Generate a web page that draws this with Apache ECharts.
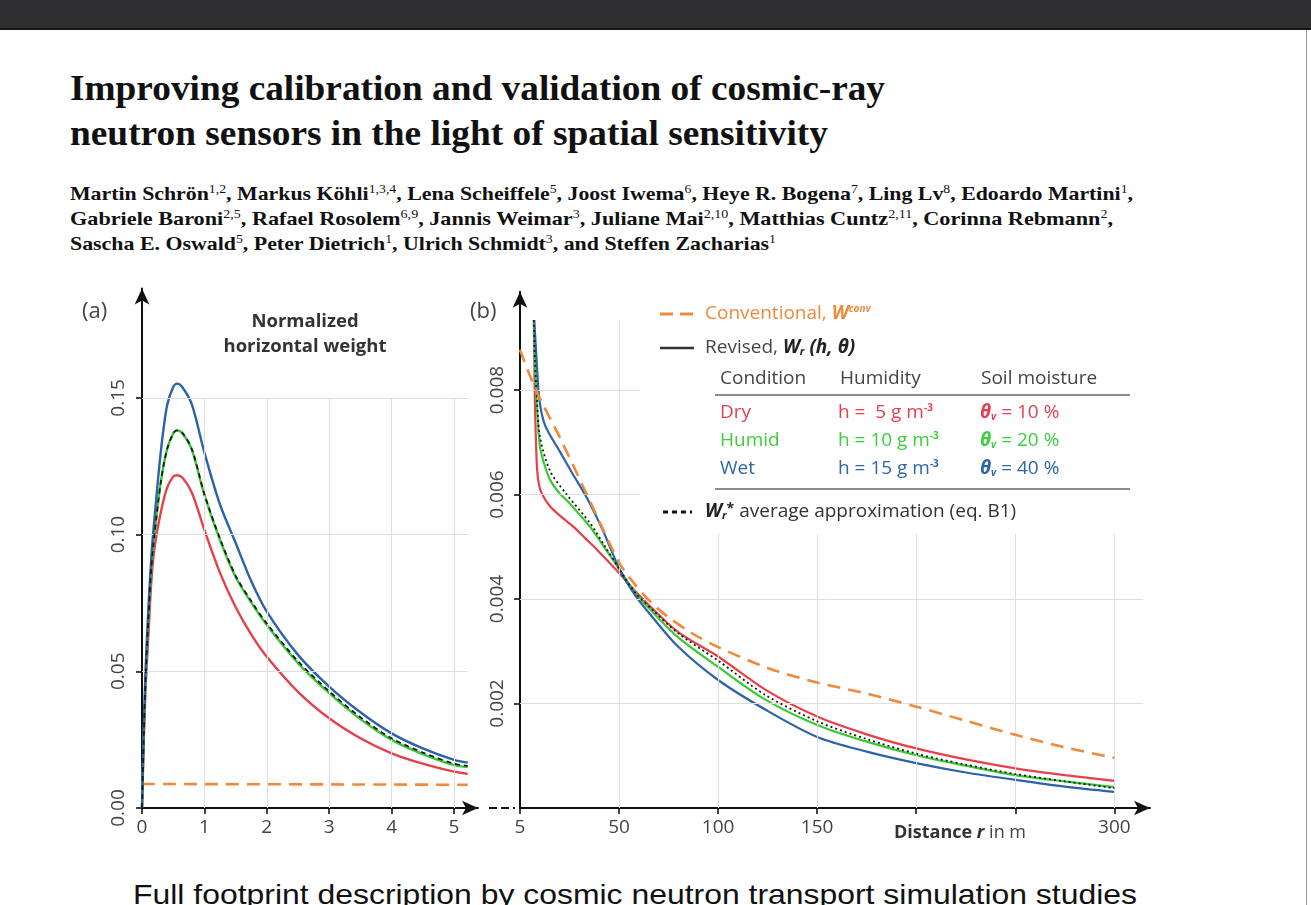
<!DOCTYPE html>
<html>
<head>
<meta charset="utf-8">
<script src="https://cdn.jsdelivr.net/npm/echarts@6.0.0/dist/echarts.min.js"></script>
<style>
  html, body { margin:0; padding:0; width:1311px; height:905px; overflow:hidden; background:#fff; }
  #topbar { position:absolute; left:0; top:0; width:1311px; height:28px; background:#2e2e30; border-bottom:2px solid #151515; }
  #rline { position:absolute; left:1306px; top:30px; width:1px; height:875px; background:#9a9a9a; }
  .fit { position:absolute; white-space:nowrap; transform-origin:0 0; display:inline-block; }
  .title { font-family:"Liberation Serif", serif; font-weight:bold; font-size:35px; line-height:35px; color:#111; }
  .auth { font-family:"Liberation Serif", serif; font-weight:bold; font-size:19px; line-height:19px; color:#111; }
  .auth sup { font-weight:normal; font-size:12px; line-height:0; vertical-align:0.55em; }
  .foot { font-family:"Liberation Sans", sans-serif; font-size:28px; line-height:28px; color:#111; }
  #chart { position:absolute; left:0; top:0; width:1311px; height:905px; }
</style>
</head>
<body>
<div id="topbar"></div>
<div id="rline"></div>
<div class="fit title" data-w="815" style="left:70px; top:71px;">Improving calibration and validation of cosmic-ray</div>
<div class="fit title" data-w="758" style="left:70px; top:116px;">neutron sensors in the light of spatial sensitivity</div>
<div class="fit auth" data-w="1063" style="left:70px; top:184px;">Martin Schrön<sup>1,2</sup>, Markus Köhli<sup>1,3,4</sup>, Lena Scheiffele<sup>5</sup>, Joost Iwema<sup>6</sup>, Heye R. Bogena<sup>7</sup>, Ling Lv<sup>8</sup>, Edoardo Martini<sup>1</sup>,</div>
<div class="fit auth" data-w="1043" style="left:70px; top:209px;">Gabriele Baroni<sup>2,5</sup>, Rafael Rosolem<sup>6,9</sup>, Jannis Weimar<sup>3</sup>, Juliane Mai<sup>2,10</sup>, Matthias Cuntz<sup>2,11</sup>, Corinna Rebmann<sup>2</sup>,</div>
<div class="fit auth" data-w="706" style="left:70px; top:234px;">Sascha E. Oswald<sup>5</sup>, Peter Dietrich<sup>1</sup>, Ulrich Schmidt<sup>3</sup>, and Steffen Zacharias<sup>1</sup></div>
<div class="fit foot" data-w="1004" style="left:133px; top:881px;">Full footprint description by cosmic neutron transport simulation studies</div>
<div id="chart"></div>
<script>
// ---------------- DATA ----------------
// Panel (a): normalized horizontal weight vs distance (x in the panel's units)
const A_X     = [0, 0.03, 0.06, 0.10, 0.15, 0.20, 0.30, 0.40, 0.50, 0.56, 0.65, 0.80, 1.00, 1.25, 1.50, 1.75, 2.00, 2.50, 3.00, 3.50, 4.00, 4.50, 5.00, 5.22];
const A_WET   = [0, 0.030, 0.052, 0.072, 0.092, 0.106, 0.130, 0.147, 0.1540, 0.1552, 0.1538, 0.1475, 0.1300, 0.1110, 0.0970, 0.0830, 0.0718, 0.0560, 0.0444, 0.0350, 0.0273, 0.0218, 0.0176, 0.0166];
const A_HUMID = [0, 0.028, 0.049, 0.068, 0.088, 0.100, 0.119, 0.131, 0.1370, 0.1381, 0.1370, 0.1310, 0.1145, 0.0980, 0.0845, 0.0752, 0.0669, 0.0530, 0.0420, 0.0325, 0.0249, 0.0197, 0.0157, 0.0150];
const A_AVG   = [0, 0.028, 0.049, 0.068, 0.088, 0.100, 0.119, 0.131, 0.1370, 0.1381, 0.1371, 0.1312, 0.1148, 0.0985, 0.0850, 0.0757, 0.0675, 0.0537, 0.0427, 0.0332, 0.0255, 0.0203, 0.0162, 0.0154];
const A_DRY   = [0, 0.026, 0.045, 0.062, 0.083, 0.095, 0.108, 0.117, 0.1212, 0.1217, 0.1208, 0.1153, 0.1017, 0.0860, 0.0735, 0.0635, 0.0553, 0.0425, 0.0328, 0.0255, 0.0200, 0.0162, 0.0133, 0.0125];
const A_CONV_X = [0, 5.22];
const A_CONV   = [0.0088, 0.0085];

// Panel (b): horizontal weight vs distance r in m  ([r, W])
const B_CONV  = [[0,0.00877],[8,0.0080],[20,0.0071],[35,0.0059],[50,0.0047],[58,0.00428],[66,0.00394],[75,0.00365],[87,0.00334],[100,0.00308],[125,0.00268],[150,0.0024],[175,0.00219],[200,0.00194],[225,0.00167],[250,0.0014],[275,0.00116],[300,0.00096]];
const B_DRY   = [[7,0.00934],[7.2,0.0086],[7.5,0.0078],[8,0.0071],[8.6,0.0065],[9.5,0.0062],[11,0.00602],[15,0.00578],[20,0.0056],[27,0.00538],[33,0.00516],[39,0.00494],[45,0.0047],[50,0.0045],[58,0.00416],[66.7,0.00382],[80,0.00336],[100,0.0029],[124,0.00226],[150,0.00175],[175,0.00141],[200,0.00114],[225,0.00093],[250,0.00076],[275,0.00063],[300,0.00052]];
const B_HUMID = [[7,0.00934],[7.5,0.0086],[8.4,0.0078],[10.1,0.00691],[12.5,0.00655],[15.2,0.00628],[20,0.00602],[23.6,0.00589],[30,0.00562],[35.4,0.00538],[43,0.00497],[50.5,0.00455],[58,0.00413],[66.7,0.00376],[80,0.00326],[100,0.0027],[124,0.00207],[150,0.00159],[175,0.00127],[200,0.00101],[225,0.00081],[250,0.00063],[275,0.00051],[300,0.0004]];
const B_WET   = [[7.2,0.00934],[8.5,0.0085],[9.8,0.00781],[12.6,0.00733],[20,0.00683],[27,0.00637],[34,0.00592],[42,0.0053],[50.5,0.00455],[58,0.00408],[66.7,0.00366],[80,0.00308],[100,0.00245],[124,0.00188],[150,0.00136],[175,0.00108],[200,0.00086],[225,0.00068],[250,0.00054],[275,0.00041],[300,0.00031]];
const B_AVG   = [[7,0.00934],[7.5,0.0086],[8.6,0.0078],[10.1,0.0071],[15.2,0.00645],[23.6,0.006],[35.4,0.00545],[43,0.005],[50.5,0.00455],[58,0.00413],[66.7,0.0038],[80,0.00334],[100,0.00282],[124,0.00216],[150,0.00166],[175,0.00132],[200,0.00104],[225,0.00083],[250,0.00065],[275,0.00051],[300,0.00038]];

// Ticks / gridlines
const A_XTICKS = [0, 1, 2, 3, 4, 5];
const A_YTICKS = [0, 0.05, 0.10, 0.15];
const A_GRID_X = [1, 2, 3, 4, 5];
const A_GRID_Y = [0.05, 0.10, 0.15];
const B_XTICKS = [0, 50, 100, 150, 200, 250, 300];
const B_XLABELS = [0, 50, 100, 150, 300];
const B_ORIGIN_LABEL = '5';
const B_YTICKS = [0.002, 0.004, 0.006, 0.008];
const B_GRID_X = [50, 100, 150, 200, 250, 300];
const B_GRID_Y = [0.002, 0.004, 0.006, 0.008];

// ---------------- LAYOUT FIT FOR HTML TEXT ----------------
document.querySelectorAll('.fit').forEach(el => {
  const w = el.getBoundingClientRect().width;
  el.style.transform = 'scaleX(' + (+el.dataset.w / w) + ')';
});

// ---------------- CHART ----------------
const C = { red:'#e6404b', green:'#38c935', blue:'#2c63a8', orange:'#ef8a3c', black:'#1a1a1a', grid:'#dedede', text:'#444' };
const FONT = '"Open Sans", "Noto Sans", sans-serif';

function axisCommon(extra) {
  return Object.assign({
    type:'value',
    axisLine:{ show:true, onZero:false, symbol:['none','arrow'], symbolSize:[11,16], lineStyle:{ color:'#111', width:2 } },
    axisTick:{ show:true, inside:false, length:6, lineStyle:{ color:'#111', width:1.6 } },
    splitLine:{ show:false },
    axisLabel:{ color:C.text, fontFamily:FONT, fontSize:18 }
  }, extra);
}

const mlStyle = { symbol:['none','none'], silent:true, animation:false, label:{show:false},
                  lineStyle:{ color:C.grid, width:1, type:'solid' }, emphasis:{disabled:true} };

const line = (name, data, color, xi, width, type, z) => ({
  name, type:'line', xAxisIndex:xi, yAxisIndex:xi, data, showSymbol:false, symbol:'none',
  smooth:0.3, animation:false, silent:true, z: z || 3,
  lineStyle:{ color, width, type: type || 'solid' }
});

const zip = (xs, ys) => xs.map((x, i) => [x, ys[i]]);

const option = {
  animation:false,
  grid:[
    { left:142, top:288.5, width:336, height:519.5 },
    { left:520, top:291.8, width:630, height:516.2 }
  ],
  xAxis:[
    axisCommon({ gridIndex:0, min:0, max:5.385,
      axisTick:{ show:true, length:6, customValues:A_XTICKS, lineStyle:{ color:'#111', width:1.6 } },
      axisLabel:{ customValues:A_XTICKS, color:C.text, fontFamily:FONT, fontSize:19, margin:10 } }),
    axisCommon({ gridIndex:1, min:0, max:318,
      axisTick:{ show:true, length:6, customValues:B_XTICKS, lineStyle:{ color:'#111', width:1.6 } },
      axisLabel:{ customValues:B_XLABELS, color:C.text, fontFamily:FONT, fontSize:19, margin:10,
                  formatter: v => v === 0 ? B_ORIGIN_LABEL : String(v) } })
  ],
  yAxis:[
    axisCommon({ gridIndex:0, min:0, max:0.19,
      axisTick:{ show:true, length:6, customValues:A_YTICKS, lineStyle:{ color:'#111', width:1.6 } },
      axisLabel:{ customValues:A_YTICKS, rotate:90, color:C.text, fontFamily:FONT, fontSize:19, margin:14,
                  formatter: v => v.toFixed(2) } }),
    axisCommon({ gridIndex:1, min:0, max:0.00988,
      axisTick:{ show:true, length:6, customValues:B_YTICKS, lineStyle:{ color:'#111', width:1.6 } },
      axisLabel:{ customValues:B_YTICKS, rotate:90, color:C.text, fontFamily:FONT, fontSize:19, margin:13,
                  formatter: v => v.toFixed(3) } })
  ],
  series:[
    { type:'line', xAxisIndex:0, yAxisIndex:0, data:[], silent:true, z:1,
      markLine: Object.assign({}, mlStyle, { data:
        A_GRID_Y.map(v => [{coord:[0, v]}, {coord:[A_X[A_X.length-1], v]}])
        .concat(A_GRID_X.map(x => [{coord:[x, 0]}, {coord:[x, A_GRID_Y[A_GRID_Y.length-1]]}])) }) },
    line('Conventional (a)', zip(A_CONV_X, A_CONV), C.orange, 0, 2.6, [13, 8], 3),
    line('Dry (a)', zip(A_X, A_DRY), C.red, 0, 2.4),
    line('Humid (a)', zip(A_X, A_HUMID), C.green, 0, 2.4),
    line('Wet (a)', zip(A_X, A_WET), C.blue, 0, 2.4),
    line('Average (a)', zip(A_X, A_AVG), C.black, 0, 1.8, [5, 4], 5),

    { type:'line', xAxisIndex:1, yAxisIndex:1, data:[], silent:true, z:1,
      markLine: Object.assign({}, mlStyle, { data:
        B_GRID_Y.map(v => [{coord:[0, v]}, {coord:[314.6, v]}])
        .concat(B_GRID_X.map(x => [{coord:[x, 0]}, {coord:[x, 0.00934]}])) }) },
    line('Dry (b)', B_DRY, C.red, 1, 2.2),
    line('Humid (b)', B_HUMID, C.green, 1, 2.2),
    line('Wet (b)', B_WET, C.blue, 1, 2.2),
    line('Average (b)', B_AVG, C.black, 1, 1.8, [2, 3], 5),
    line('Conventional (b)', B_CONV, C.orange, 1, 2.6, [13, 8], 6)
  ],
  graphic:[
    { type:'rect', z:50, shape:{ x:640, y:298, width:505, height:236 }, style:{ fill:'#fff' } },
    { type:'text', z:60, x:82, y:312, style:{ text:'(a)', font:'22px ' + FONT, fill:C.text, verticalAlign:'middle' } },
    { type:'text', z:60, x:470, y:312, style:{ text:'(b)', font:'22px ' + FONT, fill:C.text, verticalAlign:'middle' } },
    { type:'text', z:60, x:305, y:334.5, style:{ text:'Normalized\nhorizontal weight', font:'bold 18.5px ' + FONT, lineHeight:25,
        fill:'#333', align:'center', verticalAlign:'middle' } },
    { type:'line', z:60, shape:{ x1:489, y1:808, x2:515, y2:808 }, style:{ stroke:'#111', lineWidth:2, lineDash:[8,4] } },
    { type:'text', z:60, x:894, y:833, style:{ text:'{b|Distance }{bi|r}{n| in m}', verticalAlign:'middle',
        rich:{ b:{ font:'bold 18px ' + FONT, fill:'#333' }, bi:{ font:'italic bold 18px ' + FONT, fill:'#333' }, n:{ font:'18px ' + FONT, fill:'#444' } } } },

    { type:'line', z:60, shape:{ x1:660, y1:314, x2:694, y2:314 }, style:{ stroke:C.orange, lineWidth:3, lineDash:[13,7] } },
    { type:'text', z:60, x:705, y:314, style:{ text:'{n|Conventional, }{b|W}{s|conv}', verticalAlign:'middle',
        rich:{ n:{ font:'19px ' + FONT, fill:C.orange }, b:{ font:'italic bold 19px ' + FONT, fill:C.orange },
               s:{ font:'italic bold 10px ' + FONT, fill:C.orange, verticalAlign:'top' } } } },
    { type:'line', z:60, shape:{ x1:660, y1:348, x2:694, y2:348 }, style:{ stroke:'#333', lineWidth:2.5 } },
    { type:'text', z:60, x:705, y:348, style:{ text:'{n|Revised, }{b|W}{s|r}{b| (h, θ)}', verticalAlign:'middle',
        rich:{ n:{ font:'19px ' + FONT, fill:'#444' }, b:{ font:'italic bold 19px ' + FONT, fill:'#222' },
               s:{ font:'italic bold 11px ' + FONT, fill:'#222', verticalAlign:'bottom' } } } },
    { type:'text', z:60, x:720, y:379, style:{ text:'Condition', font:'19px ' + FONT, fill:C.text, verticalAlign:'middle' } },
    { type:'text', z:60, x:840, y:379, style:{ text:'Humidity', font:'19px ' + FONT, fill:C.text, verticalAlign:'middle' } },
    { type:'text', z:60, x:981, y:379, style:{ text:'Soil moisture', font:'19px ' + FONT, fill:C.text, verticalAlign:'middle' } },
    { type:'line', z:60, shape:{ x1:715, y1:395, x2:1130, y2:395 }, style:{ stroke:'#666', lineWidth:1.5 } },
    { type:'line', z:60, shape:{ x1:715, y1:489, x2:1130, y2:489 }, style:{ stroke:'#666', lineWidth:1.5 } },
    { type:'line', z:60, shape:{ x1:663, y1:512, x2:692, y2:512 }, style:{ stroke:'#111', lineWidth:3, lineDash:[5,4] } },
    { type:'text', z:60, x:705, y:512, style:{ text:'{b|W}{s|r}{t|*}{n| average approximation (eq. B1)}', verticalAlign:'middle',
        rich:{ n:{ font:'19px ' + FONT, fill:'#333' }, b:{ font:'italic bold 19px ' + FONT, fill:'#222' },
               s:{ font:'italic bold 11px ' + FONT, fill:'#222', verticalAlign:'bottom' },
               t:{ font:'bold 14px ' + FONT, fill:'#222', verticalAlign:'top' } } } }
  ]
};

const ROWS = [
  { name:'Dry',   h:'h =  5 g m', th:' = 10 %', color:'#e64050', y:413 },
  { name:'Humid', h:'h = 10 g m', th:' = 20 %', color:'#3ccf3c', y:441 },
  { name:'Wet',   h:'h = 15 g m', th:' = 40 %', color:'#2f65a8', y:469 }
];
ROWS.forEach(r => {
  option.graphic.push(
    { type:'text', z:60, x:720, y:r.y, style:{ text:r.name, font:'19px ' + FONT, fill:r.color, verticalAlign:'middle' } },
    { type:'text', z:60, x:838, y:r.y, style:{ text:'{n|' + r.h + '}{s|-3}', verticalAlign:'middle',
        rich:{ n:{ font:'19px ' + FONT, fill:r.color }, s:{ font:'bold 10px ' + FONT, fill:r.color, verticalAlign:'top' } } } },
    { type:'text', z:60, x:980, y:r.y, style:{ text:'{b|θ}{s|v}{n|' + r.th + '}', verticalAlign:'middle',
        rich:{ n:{ font:'19px ' + FONT, fill:r.color }, b:{ font:'italic bold 19px ' + FONT, fill:r.color },
               s:{ font:'italic bold 10px ' + FONT, fill:r.color, verticalAlign:'bottom' } } } }
  );
});

const chart = echarts.init(document.getElementById('chart'), null, { renderer:'canvas' });
chart.setOption(option);
</script>
</body>
</html>
